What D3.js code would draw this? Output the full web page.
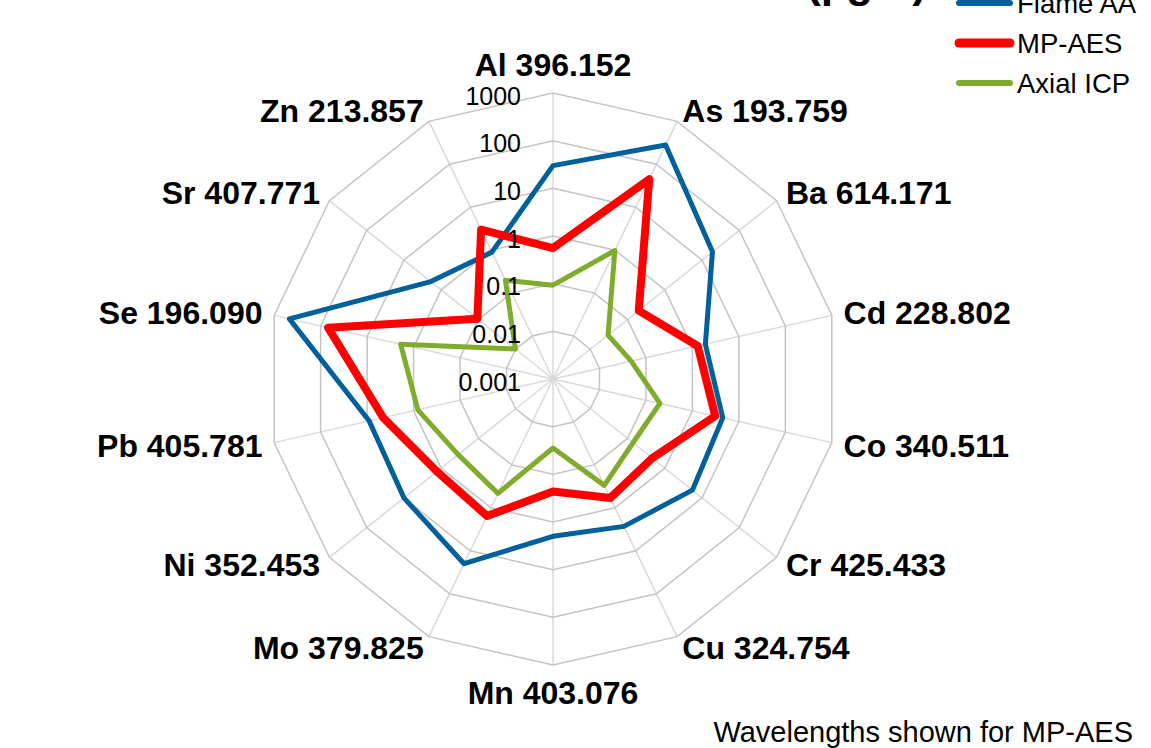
<!DOCTYPE html>
<html>
<head>
<meta charset="utf-8">
<script src="https://cdn.jsdelivr.net/npm/d3@7"></script>
<style>
  html, body { margin: 0; padding: 0; background: #fff; }
  svg { display: block; font-family: Arial, "Liberation Sans", sans-serif; }
</style>
</head>
<body>
<svg id="chart" width="1151" height="748"></svg>
<script>
// Elements and the MP-AES emission lines used for each one
const elements = ["Al", "As", "Ba", "Cd", "Co", "Cr", "Cu", "Mn", "Mo", "Ni", "Pb", "Se", "Sr", "Zn"];
const wavelengths = ["396.152", "193.759", "614.171", "228.802", "340.511", "425.433", "324.754",
                     "403.076", "379.825", "352.453", "405.781", "196.090", "407.771", "213.857"];

// Detection limits, µg/L
const flameAA  = [30, 280, 19, 1.9, 4.5, 5.5, 2.7, 2.0, 20, 10, 9, 470, 1.9, 0.9];
const mpAES    = [0.56, 45, 0.2, 1.3, 3.1, 0.46, 0.59, 0.23, 1.55, 1.3, 4.5, 69, 0.107, 3.0];
const axialICP = [0.093, 0.98, 0.03, 0.048, 0.2, 0.14, 0.3, 0.028, 0.46, 0.35, 0.81, 1.9, 0.0102, 0.2];

const seriesNames  = ["Flame AA", "MP-AES", "Axial ICP"];
const seriesColors = ["#00609c", "#ff0000", "#7fac2c"];
const seriesWidths = [5, 8, 5];

const tickValues = [0.001, 0.01, 0.1, 1, 10, 100, 1000];
const tickLabels = ["0.001", "0.01", "0.1", "1", "10", "100", "1000"];

const svg = d3.select("#chart");
const cx = 553, cy = 379, outerR = 286;
const n = elements.length;
const angle = i => i * 2 * Math.PI / n;

const r = d3.scaleLog().domain([0.001, 1000]).range([0, outerR]);

const g = svg.append("g").attr("transform", `translate(${cx},${cy})`);

// spokes
g.selectAll("line.spoke")
  .data(elements)
  .join("line")
  .attr("class", "spoke")
  .attr("x1", 0).attr("y1", 0)
  .attr("x2", (d, i) => outerR * Math.sin(angle(i)))
  .attr("y2", (d, i) => -outerR * Math.cos(angle(i)))
  .attr("stroke", "#d9d9d9")
  .attr("stroke-width", 1.5);

// polygonal rings at each decade
const ringLine = d3.lineRadial()
  .angle((d, i) => angle(i))
  .radius(d => d)
  .curve(d3.curveLinearClosed);

g.selectAll("path.ring")
  .data(tickValues.slice(1))
  .join("path")
  .attr("class", "ring")
  .attr("d", v => ringLine(elements.map(() => r(v))))
  .attr("fill", "none")
  .attr("stroke", "#c4c4c4")
  .attr("stroke-width", 1.5);

// series
const seriesData = [flameAA, mpAES, axialICP];
const seriesLine = d3.lineRadial()
  .angle((d, i) => angle(i))
  .radius(d => r(d))
  .curve(d3.curveLinearClosed);

g.selectAll("path.series")
  .data(seriesData)
  .join("path")
  .attr("class", "series")
  .attr("d", d => seriesLine(d))
  .attr("fill", "none")
  .attr("stroke", (d, i) => seriesColors[i])
  .attr("stroke-width", (d, i) => seriesWidths[i])
  .attr("stroke-linejoin", "round");

// radial tick labels
g.selectAll("text.tick")
  .data(tickValues)
  .join("text")
  .attr("class", "tick")
  .attr("x", -32)
  .attr("y", v => -r(v) + 3)
  .attr("dy", "0.35em")
  .attr("text-anchor", "end")
  .attr("font-size", 25)
  .attr("fill", "#000")
  .text((v, i) => tickLabels[i]);

// category labels
const labelR = 298;
g.selectAll("text.cat")
  .data(elements)
  .join("text")
  .attr("class", "cat")
  .each(function (d, i) {
    const a = angle(i);
    const s = Math.sin(a), c = Math.cos(a);
    const t = d3.select(this);
    if (Math.abs(s) < 1e-6) {
      t.attr("x", 0).attr("y", c > 0 ? -314 : 314).attr("text-anchor", "middle");
    } else {
      t.attr("x", labelR * s).attr("y", -labelR * c)
       .attr("text-anchor", s > 0 ? "start" : "end");
    }
  })
  .attr("dy", "0.35em")
  .attr("font-size", 32)
  .attr("font-weight", "bold")
  .attr("fill", "#000")
  .text((d, i) => `${d} ${wavelengths[i]}`);

// title (runs off the top edge)
svg.append("text")
  .attr("x", 927).attr("y", -3)
  .attr("text-anchor", "end")
  .attr("font-size", 44)
  .attr("font-weight", "bold")
  .attr("fill", "#000")
  .text("(µg/L)");

// legend
const legend = svg.append("g");
seriesNames.forEach((name, i) => {
  const y = 3 + i * 40;
  legend.append("line")
    .attr("x1", 959).attr("x2", 1010)
    .attr("y1", y).attr("y2", y)
    .attr("stroke", seriesColors[i])
    .attr("stroke-width", seriesWidths[i] + 1)
    .attr("stroke-linecap", "round");
  legend.append("text")
    .attr("x", 1017).attr("y", y)
    .attr("dy", "0.35em")
    .attr("font-size", 27.5)
    .attr("fill", "#000")
    .text(name);
});

// footnote
svg.append("text")
  .attr("x", 1133).attr("y", 742)
  .attr("text-anchor", "end")
  .attr("font-size", 29)
  .attr("fill", "#000")
  .text("Wavelengths shown for MP-AES");
</script>
</body>
</html>
